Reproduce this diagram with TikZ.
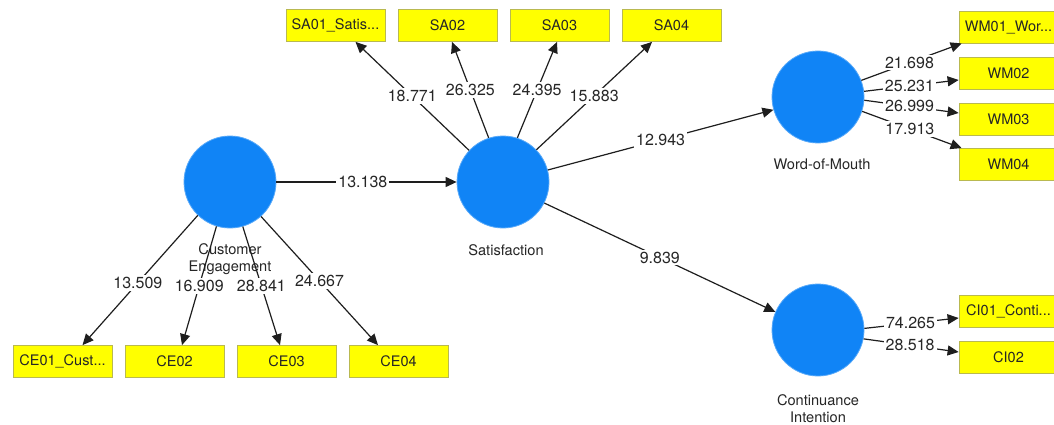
\documentclass[tikz,border=0pt]{standalone}
\usepackage{fontspec}
\setmainfont{TeX Gyre Heros}
\usetikzlibrary{arrows.meta}
\definecolor{lvblue}{RGB}{16,132,246}
\definecolor{mvyellow}{RGB}{255,255,0}
\definecolor{mvborder}{RGB}{185,185,80}
\definecolor{edgecol}{RGB}{30,30,30}
\begin{document}
\begin{tikzpicture}[x=1pt,y=-1pt,
 latent/.style={circle,fill=lvblue,draw=lvblue!70!white,line width=0.8pt,minimum size=92pt,inner sep=0pt},
 indic/.style={rectangle,fill=mvyellow,draw=mvborder,line width=0.8pt,minimum width=99pt,minimum height=32pt,inner sep=0pt,font=\fontsize{14.5}{16}\selectfont,text=black!85},
 lvname/.style={font=\fontsize{14.6}{17}\selectfont,align=center,text=black!85},
 conn/.style={draw=edgecol,line width=1.2pt,-{Triangle[length=11pt,width=10pt]}},
 coef/.style={fill=white,inner sep=2pt,font=\fontsize{16}{18}\selectfont,text=black!85},
]
\useasboundingbox (0,0) rectangle (1054,425);
\fill[white] (0,0) rectangle (1054,425);

% latent variables
\node[latent] (ce) at (230,182) {};
\node[latent] (sat) at (503,182) {};
\node[latent] (wm) at (818,97) {};
\node[latent] (ci) at (818,330) {};

% latent names
\node[lvname] (cename) at (230,259) {Customer\\Engagement};
\node[lvname] (satname) at (506,250) {Satisfaction};
\node[lvname] (wmname) at (822,164) {Word-of-Mouth};
\node[lvname] (ciname) at (818,409) {Continuance\\Intention};

% indicators
\node[indic] (ce01) at (62.5,361.5) {CE01\_Cust...};
\node[indic] (ce02) at (174.5,361.5) {CE02};
\node[indic] (ce03) at (286.5,361.5) {CE03};
\node[indic] (ce04) at (398.5,361.5) {CE04};

\node[indic] (sa01) at (335.5,25.5) {SA01\_Satis...};
\node[indic] (sa02) at (447.5,25.5) {SA02};
\node[indic] (sa03) at (559.5,25.5) {SA03};
\node[indic] (sa04) at (671.5,25.5) {SA04};

\node[indic] (wm01) at (1008.5,27) {WM01\_Wor...};
\node[indic] (wm02) at (1008.5,73) {WM02};
\node[indic] (wm03) at (1008.5,119) {WM03};
\node[indic] (wm04) at (1008.5,164.5) {WM04};

\node[indic] (ci01) at (1008.5,311.5) {CI01\_Conti...};
\node[indic] (ci02) at (1008.5,357) {CI02};

% structural paths
\draw[conn] (ce.east) -- node[coef,pos=0.48]{13.138} (sat.west);
\draw[conn] (sat.15) -- node[coef]{12.943} (wm.196);
\draw[conn] (sat.-27) -- node[coef]{9.839} (ci.157);

% CE indicators
\draw[conn] (ce.226) -- node[coef,pos=0.52]{13.509} ([xshift=20pt]ce01.north);
\draw[conn] (ce.253) -- node[coef]{16.909} ([xshift=7.5pt]ce02.north);
\draw[conn] (ce.286) -- node[coef]{28.841} ([xshift=-6.5pt]ce03.north);
\draw[conn] (ce.312) -- node[coef]{24.667} ([xshift=-20.5pt]ce04.north);

% SA indicators
\draw[conn] (sat.137) -- node[coef]{18.771} ([xshift=20pt]sa01.south);
\draw[conn] (sat.108) -- node[coef]{26.325} ([xshift=4.5pt]sa02.south);
\draw[conn] (sat.72) -- node[coef]{24.395} ([xshift=-2.5pt]sa03.south);
\draw[conn] (sat.44) -- node[coef]{15.883} ([xshift=-19.5pt]sa04.south);

% WM indicators
\draw[conn] (wm.21) -- node[coef,pos=0.48]{21.698} ([xshift=3pt]wm01.south west);
\draw[conn] (wm.7) -- node[coef,pos=0.48]{25.231} ([yshift=-7pt]wm02.west);
\draw[conn] (wm.-4) -- node[coef,pos=0.48]{26.999} ([yshift=6pt]wm03.west);
\draw[conn] (wm.-18) -- node[coef,pos=0.48]{17.913} ([xshift=3pt]wm04.north west);

% CI indicators
\draw[conn] (ci.2) -- node[coef,pos=0.49]{74.265} ([yshift=-6.5pt]ci01.west);
\draw[conn] (ci.-11) -- node[coef,pos=0.49]{28.518} ([yshift=5pt]ci02.west);
\end{tikzpicture}
\end{document}
